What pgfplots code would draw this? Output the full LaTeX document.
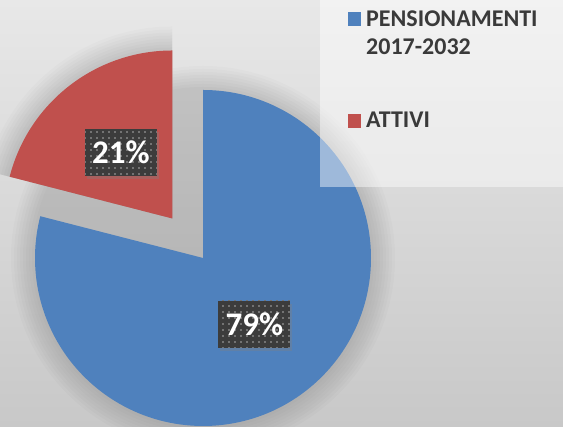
\documentclass[border=0pt]{standalone}
\usepackage{pgfplots}
\pgfplotsset{compat=1.18}
\usepackage{pgfplotstable}
\usepackage{fontspec}
\setmainfont{Carlito}
\usetikzlibrary{patterns,shadows,calc}
\definecolor{pieblue}{HTML}{4F81BD}
\definecolor{piered}{HTML}{C0504D}
\definecolor{legtext}{HTML}{3A3A3A}
\definecolor{boxdark}{HTML}{3C3C3C}
\definecolor{bgtop}{HTML}{E8E8E8}
\definecolor{bgbot}{HTML}{C8C8C8}
\pgfdeclarepatternformonly{bigdots}{\pgfqpoint{-1pt}{-1pt}}{\pgfqpoint{7pt}{7pt}}{\pgfqpoint{6pt}{6pt}}{\pgfpathrectangle{\pgfqpoint{0pt}{0pt}}{\pgfqpoint{1.5pt}{1.5pt}}\pgfusepath{fill}}
\pgfplotstableread{
name value
PENSIONAMENTI 79
ATTIVI 21
}\piedata
\begin{document}
\begin{tikzpicture}
\pgfplotstablegetelem{0}{value}\of\piedata \let\vA\pgfplotsretval
\pgfplotstablegetelem{1}{value}\of\piedata \let\vB\pgfplotsretval
\pgfmathsetmacro\angA{\vA/(\vA+\vB)*360}
\pgfmathsetmacro\endA{90-\angA}
\pgfmathsetmacro\endB{90+(360-\angA)}
\pgfmathsetmacro\midA{90-\angA/2}
\pgfmathsetmacro\midB{90+(360-\angA)/2}
\pgfmathtruncatemacro\pA{round(\vA)}
\pgfmathtruncatemacro\pB{round(\vB)}
\begin{axis}[scale only axis, width=563pt, height=427pt,
  xmin=0, xmax=563, ymin=0, ymax=427, hide axis, clip=false]
% background
\fill[top color=bgtop, bottom color=bgbot] (axis cs:0,0) rectangle (axis cs:563,427);
\begin{scope}
\clip (axis cs:0,0) rectangle (axis cs:563,427);
% soft halo
\pgfplotsinvokeforeach{171,174,177,180,183,186,189,192}{
  \fill[black, opacity=0.014] (axis cs:203,169) circle[radius=#1pt];
  \fill[black, opacity=0.014] ($(axis cs:203,169)+(\midB:50pt)$) -- ++(90:#1pt) arc[start angle=90, end angle=\endB, radius=#1pt] -- cycle;
}
% blue slice
\fill[pieblue] (axis cs:203,169) -- ++(90:168pt) arc[start angle=90, end angle=\endA, radius=168pt] -- cycle;
% red slice (exploded)
\fill[piered] ($(axis cs:203,169)+(\midB:50pt)$) -- ++(90:168pt) arc[start angle=90, end angle=\endB, radius=168pt] -- cycle;
\end{scope}
% data labels
\node[fill=boxdark, text=white, font=\bfseries\fontsize{33}{33}\selectfont,
  minimum width=72pt, minimum height=47pt, inner sep=0pt,
  drop shadow={opacity=0.35, shadow xshift=2pt, shadow yshift=-3pt},
  postaction={pattern=bigdots, pattern color=white!28!boxdark}]
  at ($(axis cs:203,169)+(\midA:84pt)$) {\pA\%};
\node[fill=boxdark, text=white, font=\bfseries\fontsize{33}{33}\selectfont,
  minimum width=72pt, minimum height=47pt, inner sep=0pt,
  drop shadow={opacity=0.35, shadow xshift=2pt, shadow yshift=-3pt},
  postaction={pattern=bigdots, pattern color=white!28!boxdark}]
  at ($(axis cs:203,169)+(\midB:50pt)+(\midB:84pt)$) {\pB\%};
% legend box
\fill[white, opacity=0.45] (axis cs:320,240) rectangle (axis cs:563,427);
\fill[pieblue] (axis cs:348,401) rectangle (axis cs:361,415);
\fill[piered] (axis cs:348,299) rectangle (axis cs:361,313);
\node[anchor=base west, inner sep=0pt, text=legtext, font=\bfseries\fontsize{24}{24}\selectfont] at (axis cs:366,400) {PENSIONAMENTI};
\node[anchor=base west, inner sep=0pt, text=legtext, font=\bfseries\fontsize{24}{24}\selectfont] at (axis cs:366,372) {2017-2032};
\node[anchor=base west, inner sep=0pt, text=legtext, font=\bfseries\fontsize{24}{24}\selectfont] at (axis cs:366,299) {ATTIVI};
\end{axis}
\pgfresetboundingbox
\path[use as bounding box] (current axis.south west) rectangle (current axis.north east);
\end{tikzpicture}
\end{document}
